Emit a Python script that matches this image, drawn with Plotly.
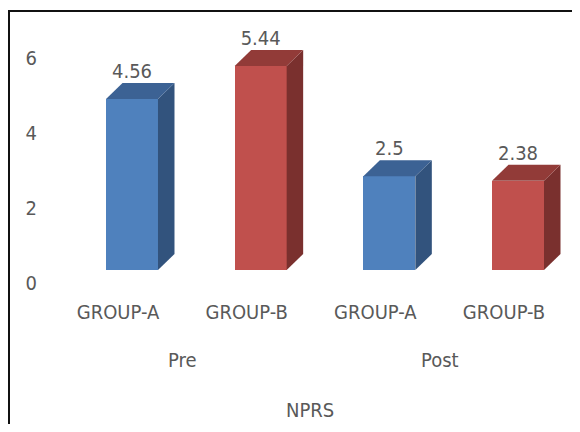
import plotly.graph_objects as go

# ---- data ----
phases = ["Pre", "Pre", "Post", "Post"]
groups = ["GROUP-A", "GROUP-B", "GROUP-A", "GROUP-B"]
values = [4.56, 5.44, 2.5, 2.38]
value_labels = ["4.56", "5.44", "2.5", "2.38"]
y_ticks = [0, 2, 4, 6]
axis_title = "NPRS"

# ---- styles ----
front_cols = ["#4F81BD", "#C0504D", "#4F81BD", "#C0504D"]
side_cols = ["#32537D", "#7A302E", "#32537D", "#7A302E"]
top_cols = ["#3C6294", "#923B38", "#3C6294", "#923B38"]
FONT = "Liberation Sans Narrow, DejaVu Sans Condensed, Arial Narrow, sans-serif"
TXT = "#595959"

# page has an 8px body margin, so the figure is smaller than the window
W, H = 564, 416
ML, MR, MT, MB = 32, 0, 7, 154
XMIN = -0.715
YMAX = 6.8
BAR_W = 0.404
pw = W - ML - MR
ph = H - MT - MB
px_x = 128.67  # pixels per category step
XMAX = XMIN + pw / px_x
px_y = ph / YMAX
DX = 16.5 / px_x  # depth offset in data units
DY = 16.0 / px_y
BOTTOM = H - MB  # plot bottom in figure pixels


def py(yfig):
    return (BOTTOM - yfig) / ph


def pxp(xfig):
    return (xfig - ML) / pw


xs = list(range(len(values)))

fig = go.Figure()

# side and top faces (pseudo-3D)
for i, v in enumerate(values):
    x = xs[i]
    r = x + BAR_W / 2
    l = x - BAR_W / 2
    fig.add_trace(go.Scatter(
        x=[r, r + DX, r + DX, r, r], y=[0, DY, v + DY, v, 0],
        fill="toself", fillcolor=side_cols[i], mode="lines",
        line=dict(width=0, color=side_cols[i]), hoverinfo="skip", showlegend=False))
    fig.add_trace(go.Scatter(
        x=[l, r, r + DX, l + DX, l], y=[v, v, v + DY, v + DY, v],
        fill="toself", fillcolor=top_cols[i], mode="lines",
        line=dict(width=0, color=top_cols[i]), hoverinfo="skip", showlegend=False))

# front faces
fig.add_trace(go.Bar(x=xs, y=values, width=BAR_W, marker=dict(color=front_cols, line=dict(width=0)),
                     showlegend=False, hoverinfo="skip"))

# value labels
fig.add_trace(go.Scatter(
    x=xs, y=[v + DY for v in values], mode="text", text=value_labels,
    textposition="top center", textfont=dict(family=FONT, size=20, color=TXT),
    showlegend=False, hoverinfo="skip"))

# group (phase) labels
for ph_name in ["Pre", "Post"]:
    idx = [i for i, p in enumerate(phases) if p == ph_name]
    cx = sum(xs[i] for i in idx) / len(idx)
    fig.add_annotation(x=cx, xref="x", y=py(352), yref="paper", text=ph_name,
                       showarrow=False, xshift=-14, yanchor="middle",
                       font=dict(family=FONT, size=20, color=TXT))

# axis title
fig.add_annotation(x=pxp(302), xref="paper", y=py(402), yref="paper",
                   text=axis_title, showarrow=False, yanchor="middle",
                   font=dict(family=FONT, size=20, color=TXT))

# frame (top and left edges)
fig.add_shape(type="line", xref="paper", yref="paper",
              x0=pxp(0), x1=pxp(W + 5), y0=py(3), y1=py(3),
              line=dict(color="#111111", width=2))
fig.add_shape(type="line", xref="paper", yref="paper",
              x0=pxp(1), x1=pxp(1), y0=py(3), y1=py(H + 5),
              line=dict(color="#111111", width=2))

fig.update_layout(
    width=W, height=H,
    margin=dict(l=ML, r=MR, t=MT, b=MB),
    paper_bgcolor="white", plot_bgcolor="white",
    bargap=0,
    xaxis=dict(range=[XMIN, XMAX], tickvals=xs, ticktext=groups, showgrid=False,
               zeroline=False, showline=False, ticks="", ticklabelshift=-14,
               ticklabelstandoff=28,
               tickfont=dict(family=FONT, size=20, color=TXT)),
    yaxis=dict(range=[0, YMAX], tickvals=y_ticks, showgrid=False, zeroline=False,
               showline=False, ticks="", ticklabelshift=13, ticklabelstandoff=2,
               tickfont=dict(family=FONT, size=20, color=TXT)),
)

fig.write_html("out.html")
